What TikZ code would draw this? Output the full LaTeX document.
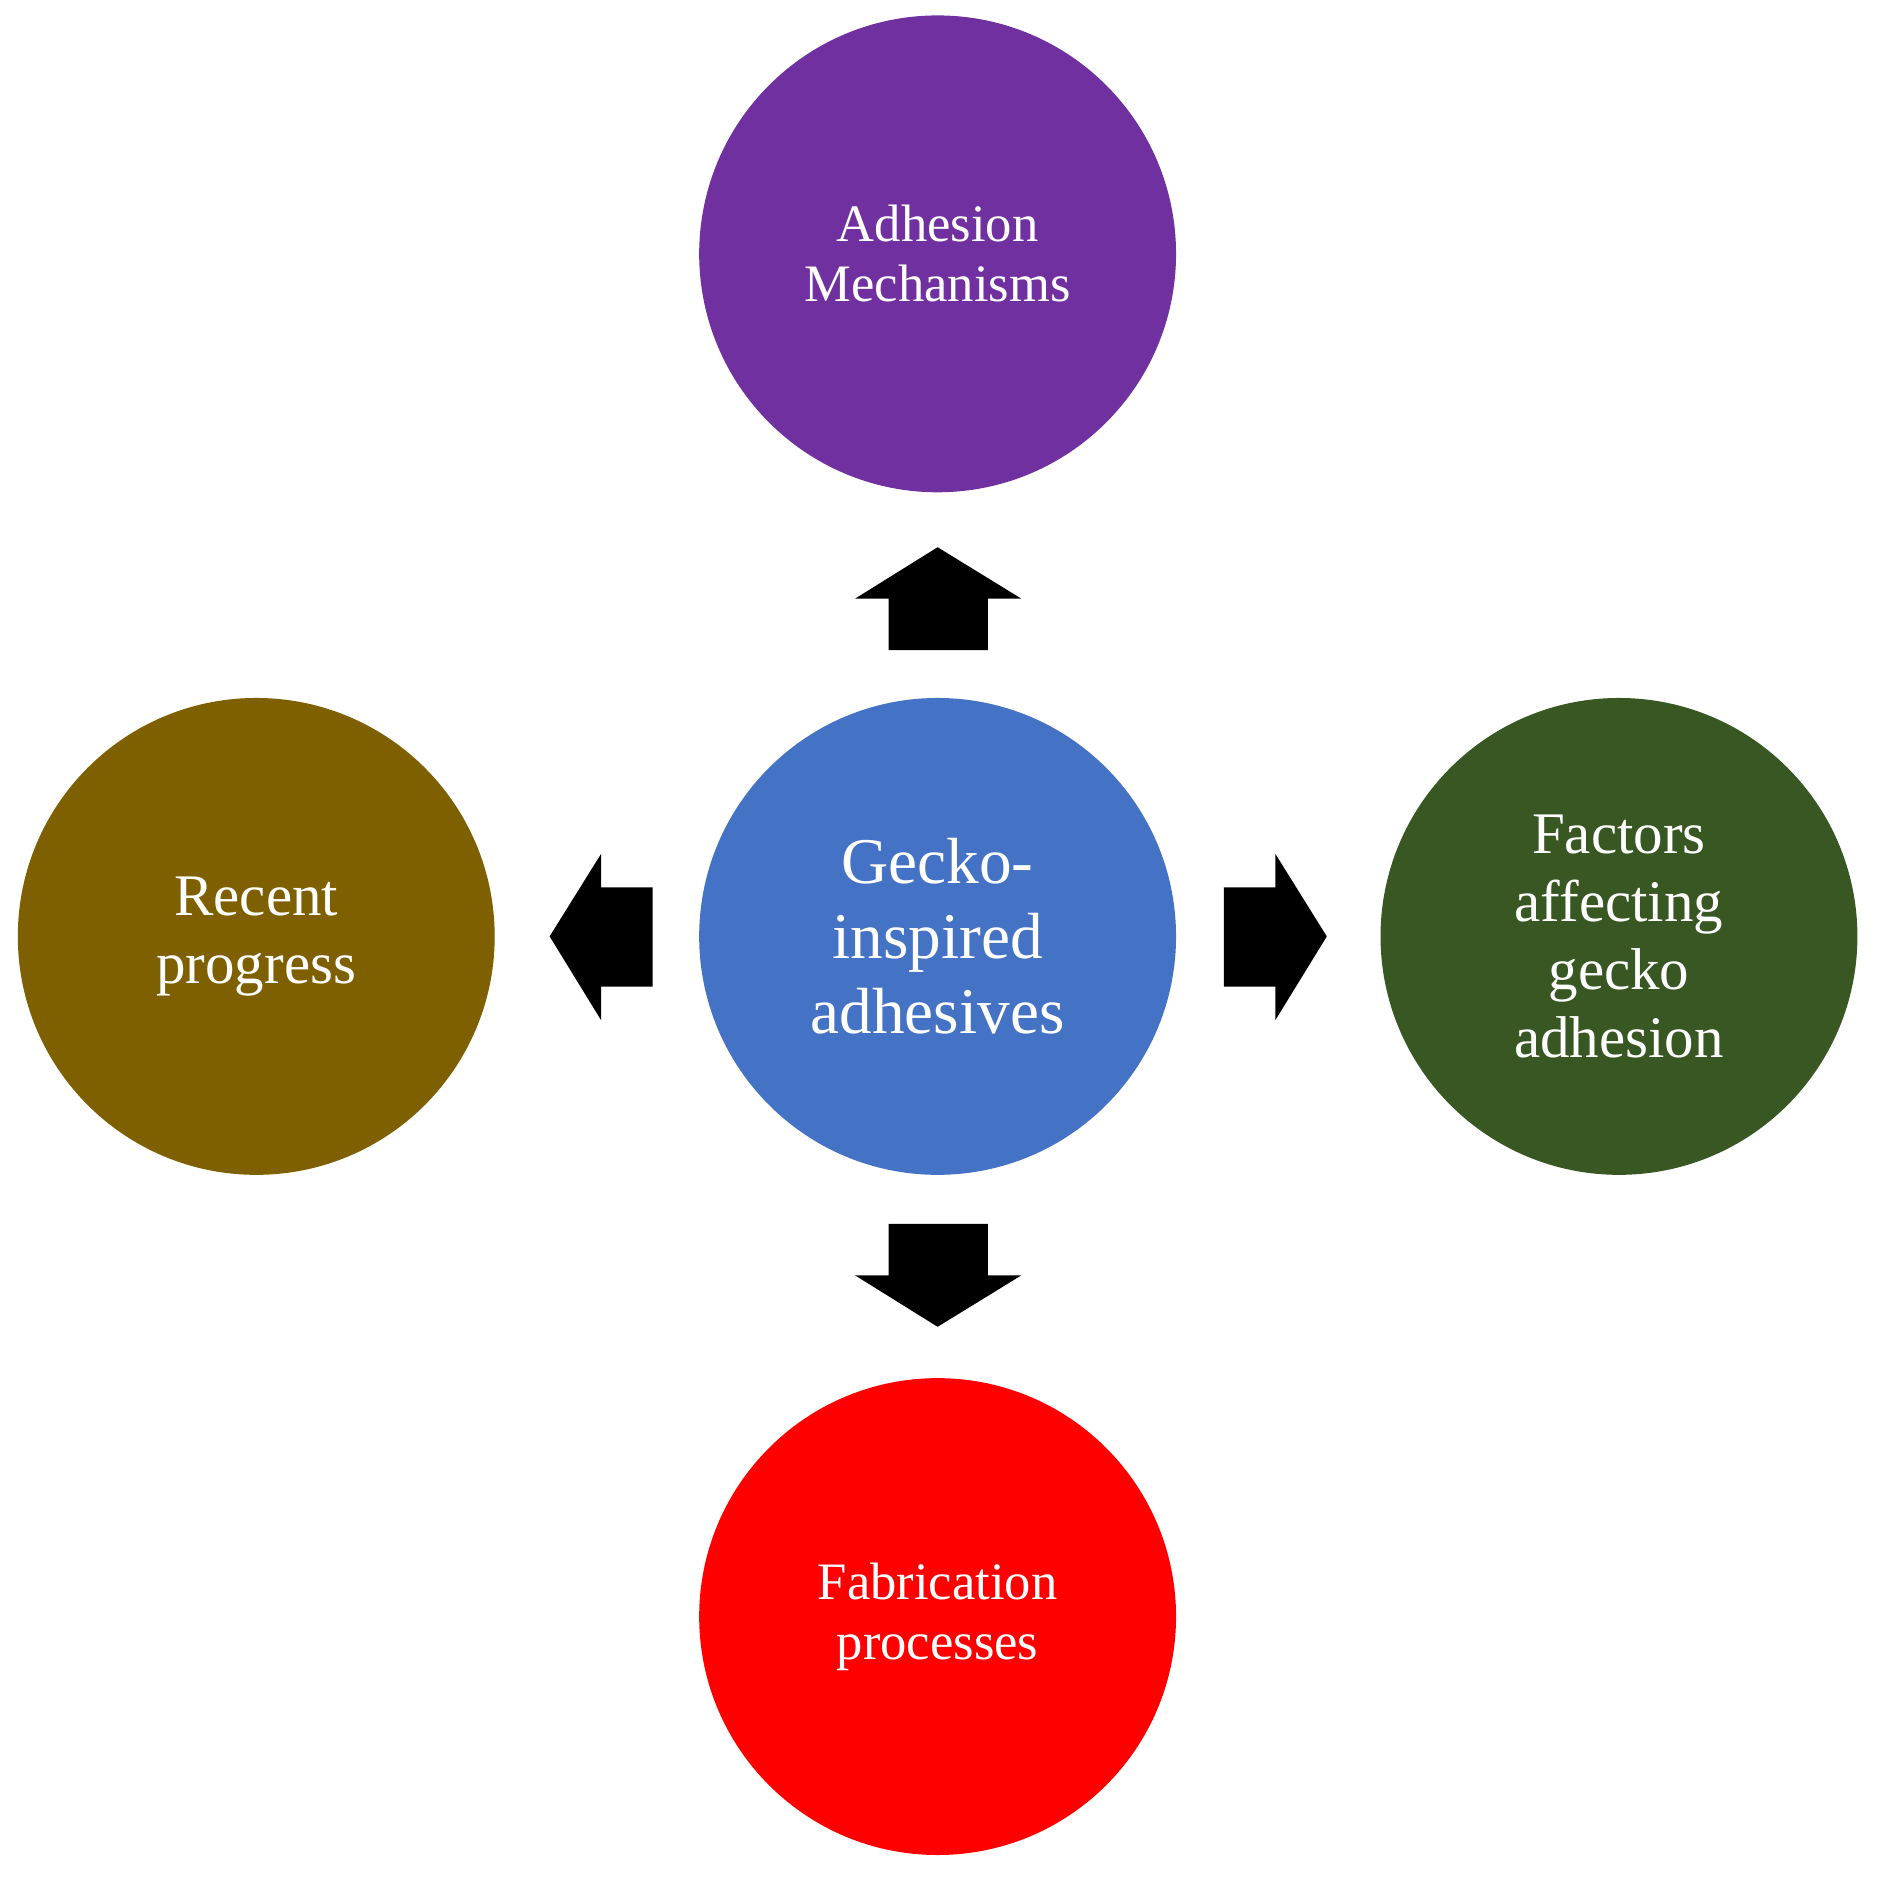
\documentclass[tikz,border=0pt]{standalone}
\usepackage{fontspec}
\setmainfont{Liberation Serif}
\begin{document}
\begin{tikzpicture}[x=0.01cm,y=-0.01cm,
  circ/.style={circle,minimum size=3.98cm,inner sep=0pt,text=white,align=center,font=\fontsize{12.5}{14.3}\selectfont},
  blk/.style={fill=black}]
\useasboundingbox (0,0) rectangle (1568,1570);
\definecolor{cpur}{RGB}{112,48,160}
\definecolor{cblue}{RGB}{68,114,196}
\definecolor{cbrown}{RGB}{127,96,0}
\definecolor{cgreen}{RGB}{56,87,35}
\node[circ,fill=cpur] (top) at (783,212) {Adhesion\\Mechanisms};
\node[circ,fill=cblue,font=\fontsize{15.5}{17.8}\selectfont] (c) at (783,782) {Gecko-\\inspired\\adhesives};
\node[circ,fill=cbrown,font=\fontsize{14}{16.2}\selectfont] (l) at (214,782) {Recent\\progress};
\node[circ,fill=cgreen,font=\fontsize{14}{16.2}\selectfont] (r) at (1352,782) {Factors\\affecting\\gecko\\adhesion};
\node[circ,fill=red] (b) at (783,1350) {Fabrication\\processes};
% block arrows
\fill[blk] (742,543) -- (742,500) -- (714,500) -- (783,457) -- (853,500) -- (825,500) -- (825,543) -- cycle;
\fill[blk] (742,1022) -- (742,1065) -- (714,1065) -- (783,1108) -- (853,1065) -- (825,1065) -- (825,1022) -- cycle;
\fill[blk] (545,741) -- (502,741) -- (502,713) -- (459,782) -- (502,852) -- (502,824) -- (545,824) -- cycle;
\fill[blk] (1022,741) -- (1065,741) -- (1065,713) -- (1108,782) -- (1065,852) -- (1065,824) -- (1022,824) -- cycle;
\end{tikzpicture}
\end{document}
